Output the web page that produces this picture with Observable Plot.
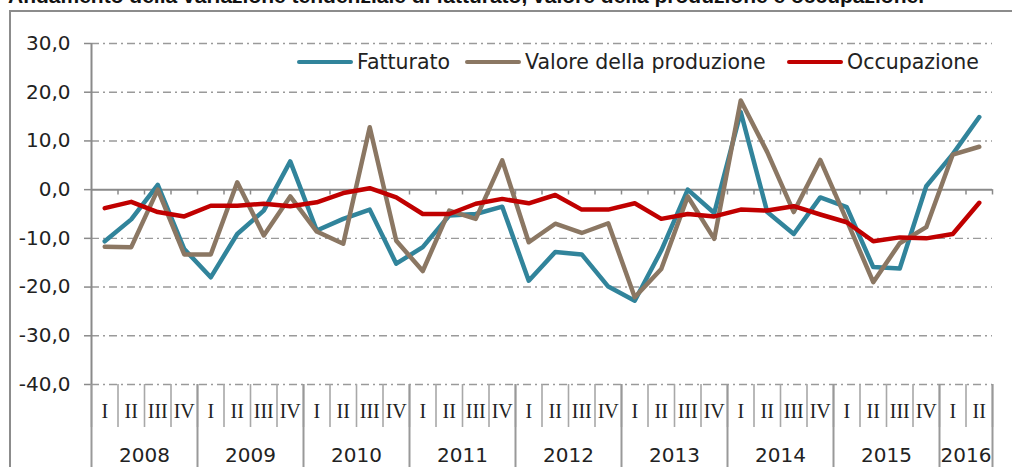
<!DOCTYPE html>
<html>
<head>
<meta charset="utf-8">
<script src="https://cdn.jsdelivr.net/npm/d3@7"></script>
<script src="https://cdn.jsdelivr.net/npm/@observablehq/plot@0.6"></script>
<style>
  html, body { margin: 0; padding: 0; background: #fff; }
  #wrap { position: relative; width: 1012px; height: 467px; overflow: hidden; background: #fff; }
  #border { position: absolute; left: 9px; top: 10px; width: 1100px; height: 600px; border: 2px solid #8c8c8c; box-sizing: border-box; }
  #title { position: absolute; left: 8px; top: -16px; font-family: "Liberation Sans", Arial, sans-serif; font-weight: bold; font-size: 21px; line-height: 24px; color: #111; white-space: nowrap; }
  #chart { position: absolute; left: 0; top: 0; }
  .item { position: absolute; top: 50px; display: flex; align-items: center; font-family: "DejaVu Sans", sans-serif; font-size: 20.5px; color: #222; white-space: nowrap; }
  .sw { display: inline-block; width: 56px; height: 4.5px; border-radius: 3px; margin-right: 4px; }
</style>
</head>
<body>
<div id="wrap">
  <div id="border"></div>
  <div id="title">Andamento della variazione tendenziale di fatturato, valore della produzione e occupazione.</div>
  <div id="chart"></div>
  <div id="legend"></div>
</div>
<script>
// ---- data ----
const years = [2008, 2009, 2010, 2011, 2012, 2013, 2014, 2015, 2016];
const quarterLabels = [
  "I","II","III","IV", "I","II","III","IV", "I","II","III","IV", "I","II","III","IV",
  "I","II","III","IV", "I","II","III","IV", "I","II","III","IV", "I","II","III","IV",
  "I","II"
];
const fatturato = [
  -10.6, -6.1, 1.0, -12.2, -18.0, -9.1, -4.3, 5.8, -8.4, -6.0, -4.1, -15.2,
  -11.8, -5.3, -5.0, -3.5, -18.7, -12.8, -13.3, -19.9, -22.8, -12.5, 0.0, -4.8,
  15.9, -4.6, -9.1, -1.6, -3.6, -15.9, -16.2, 0.7, 7.3, 14.9
];
const valore = [
  -11.7, -11.8, 0.0, -13.3, -13.3, 1.5, -9.4, -1.4, -8.6, -11.1, 12.8, -10.5,
  -16.7, -4.3, -6.0, 6.0, -10.8, -7.0, -8.9, -6.9, -22.1, -16.3, -1.4, -10.1,
  18.3, 7.7, -4.6, 6.1, -6.3, -19.0, -11.0, -7.7, 7.2, 8.8
];
const occupazione = [
  -3.8, -2.5, -4.6, -5.5, -3.3, -3.3, -2.9, -3.4, -2.6, -0.7, 0.3, -1.6,
  -5.0, -5.0, -2.9, -1.9, -2.8, -1.1, -4.1, -4.1, -2.8, -6.0, -5.0, -5.5,
  -4.1, -4.3, -3.4, -5.1, -6.7, -10.6, -9.8, -10.0, -9.1, -2.7
];
const seriesNames = ["Fatturato", "Valore della produzione", "Occupazione"];
const seriesColors = ["#31849b", "#8b7763", "#c00000"];
const yTicks = [-40, -30, -20, -10, 0, 10, 20, 30];

// ---- derived tables ----
const n = quarterLabels.length;
const rows = [];
[fatturato, valore, occupazione].forEach((arr, s) => {
  arr.forEach((v, i) => rows.push({series: seriesNames[s], i: i + 0.5, v}));
});
const quarterBounds = d3.range(0, n + 1);
const yearBounds = years.map((y, k) => Math.min(k * 4, n)).concat([n]);
const yearCenters = years.map((y, k) => (k * 4 + Math.min(k * 4 + 4, n)) / 2);
const quarterCenters = d3.range(n).map(i => i + 0.5);

const chart = Plot.plot({
  width: 1012,
  height: 467,
  marginLeft: 91,
  marginRight: 20,
  marginTop: 43,
  marginBottom: 83,
  x: {domain: [0, n], axis: null},
  y: {domain: [-40, 30], axis: null},
  color: {domain: seriesNames, range: seriesColors},
  style: {fontFamily: "DejaVu Sans, sans-serif", fontSize: "20px", color: "#222", background: "transparent", overflow: "visible"},
  marks: [
    Plot.ruleY(yTicks.filter(d => d !== 0), {stroke: "#9a9a9a", strokeWidth: 1.4, strokeDasharray: "8,4,2,4", strokeOpacity: 1}),
    Plot.ruleY([0], {stroke: "#8a8a8a", strokeWidth: 2}),
    Plot.ruleX(quarterBounds.slice(1), {y1: 0, y2: -1.1, stroke: "#8a8a8a", strokeWidth: 1.5}),
    Plot.ruleX([0], {stroke: "#8a8a8a", strokeWidth: 2}),
    Plot.axisY({
      ticks: yTicks, tickSize: 7, tickPadding: 14, stroke: "#8a8a8a", strokeWidth: 1.5,
      tickFormat: d => d.toFixed(1).replace(".", ","), fontSize: 20, label: null
    }),
    Plot.axisX({ticks: quarterBounds, tickSize: 43, tickFormat: () => "", stroke: "#a8a8a8", strokeWidth: 1.6, label: null}),
    Plot.axisX({ticks: yearBounds, tickSize: 83, tickFormat: () => "", stroke: "#999", strokeWidth: 2, label: null}),
    Plot.axisX({
      ticks: quarterCenters, tickSize: 0, tickPadding: 19,
      tickFormat: d => quarterLabels[Math.floor(d)], fontFamily: "Liberation Serif, serif", fontSize: 20, label: null
    }),
    Plot.axisX({
      ticks: yearCenters, tickSize: 0, tickPadding: 63,
      tickFormat: (d, k) => String(years[k]), fontSize: 20, label: null
    }),
    Plot.line(rows, {x: "i", y: "v", z: "series", stroke: "series", strokeWidth: 4.5, strokeLinejoin: "round", strokeLinecap: "round"})
  ]
});
document.getElementById("chart").appendChild(chart);

// legend
const legend = document.getElementById("legend");
const legendLeft = [297, 465, 787];
seriesNames.forEach((name, s) => {
  const it = document.createElement("div");
  it.className = "item";
  it.style.left = legendLeft[s] + "px";
  const sw = document.createElement("span");
  sw.className = "sw";
  sw.style.background = seriesColors[s];
  const tx = document.createElement("span");
  tx.textContent = name;
  it.appendChild(sw);
  it.appendChild(tx);
  legend.appendChild(it);
});
</script>
</body>
</html>
